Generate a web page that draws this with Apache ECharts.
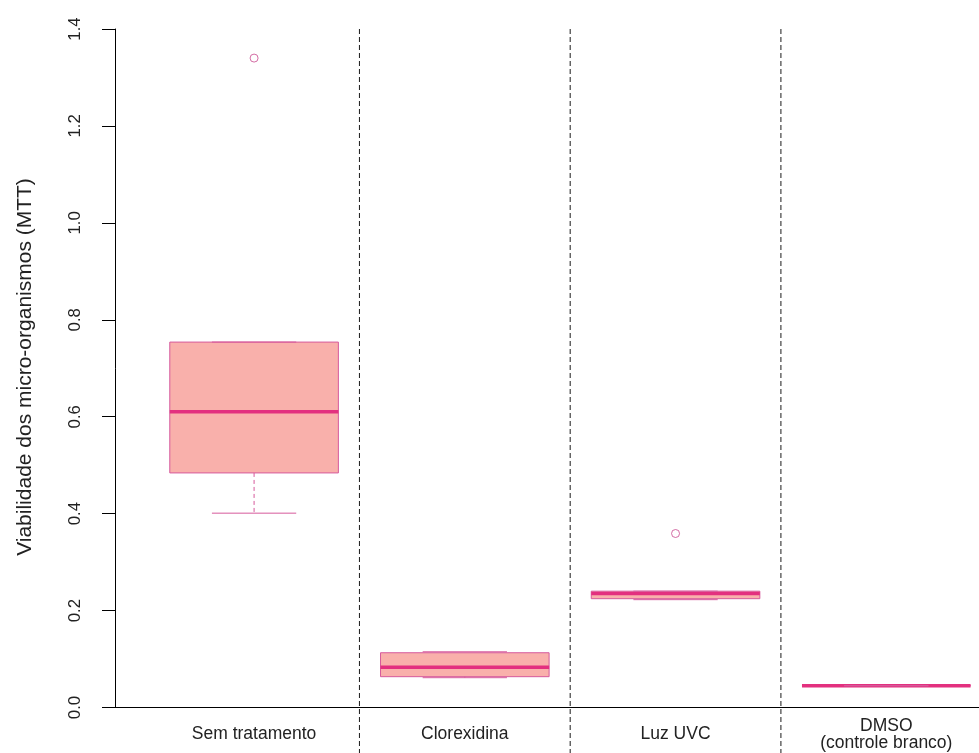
<!DOCTYPE html>
<html>
<head>
<meta charset="utf-8">
<script src="https://cdn.jsdelivr.net/npm/echarts@6/dist/echarts.min.js"></script>
<style>
html,body{margin:0;padding:0;background:#fff;}
#chart{width:979px;height:753px;}
</style>
</head>
<body>
<div id="chart"></div>
<script>
const categories = ['Sem tratamento', 'Clorexidina', 'Luz UVC', 'DMSO\n(controle branco)'];
const whiskerLow  = [0.401, 0.0615, 0.2225, 0.045];
const q1          = [0.484, 0.0636, 0.2245, 0.045];
const median      = [0.610, 0.083,  0.235,  0.045];
const q3          = [0.754, 0.113,  0.240,  0.045];
const whiskerHigh = [0.754, 0.115,  0.240,  0.045];
const outlierGroup = [1, 3];
const outlierValue = [1.340, 0.359];
const yTickValues = [0, 0.2, 0.4, 0.6, 0.8, 1.0, 1.2, 1.4];
const separators = [1.5, 2.5, 3.5];
const yTitle = 'Viabilidade dos micro-organismos (MTT)';

const X_MIN = 0.34, X_MAX = 4.44, Y_MIN = 0, Y_MAX = 1.4, Y_SEP_END = -0.12;
const FONT = '"Liberation Sans", Arial, sans-serif';

const boxData = categories.map((c, i) => [i + 1, whiskerLow[i], q1[i], median[i], q3[i], whiskerHigh[i]]);
const outlierData = outlierGroup.map((g, i) => [g, outlierValue[i]]);

const BORDER = '#D65A9C';

const chart = echarts.init(document.getElementById('chart'), null, {renderer: 'canvas'});
chart.setOption({
  animation: false,
  backgroundColor: '#ffffff',
  grid: {left: 115, top: 29, right: 0, bottom: 45.5, containLabel: false},
  xAxis: {
    type: 'value', min: X_MIN, max: X_MAX,
    axisLine: {show: true, onZero: false, lineStyle: {color: '#000', width: 1}},
    axisTick: {show: false},
    splitLine: {show: false},
    axisLabel: {
      customValues: [1, 2, 3, 4],
      formatter: v => categories[Math.round(v) - 1] || '',
      fontFamily: FONT, fontSize: 17.5, color: '#222',
      margin: 27, verticalAlign: 'middle', lineHeight: 17
    }
  },
  yAxis: {
    type: 'value', min: Y_MIN, max: Y_MAX, interval: 0.2,
    axisLine: {show: true, lineStyle: {color: '#000', width: 1}},
    axisTick: {show: true, inside: false, length: 13, lineStyle: {color: '#000', width: 1}},
    splitLine: {show: false},
    axisLabel: {
      rotate: 90, margin: 31,
      formatter: v => (yTickValues.find(t => Math.abs(t - v) < 1e-6) ?? v).toFixed(1),
      fontFamily: FONT, fontSize: 16.8, color: '#222'
    }
  },
  graphic: [{
    type: 'text', x: 25, y: 367, rotation: Math.PI / 2,
    style: {text: yTitle, fontFamily: FONT, fontSize: 21, fill: '#222', textAlign: 'center', textVerticalAlign: 'middle'}
  }],
  series: [
    {
      type: 'custom', name: 'separators', silent: true, clip: false,
      data: separators.map(s => [s]),
      encode: {x: 0},
      renderItem: (params, api) => {
        const s = api.value(0);
        const top = api.coord([s, Y_MAX]);
        const bot = api.coord([s, Y_SEP_END]);
        return {type: 'line', shape: {x1: top[0], y1: top[1], x2: bot[0], y2: bot[1]},
          style: {stroke: '#1a1a1a', lineWidth: 1, lineDash: [5, 3]}};
      }
    },
    {
      type: 'custom', name: 'boxes', silent: true, clip: false,
      data: boxData,
      encode: {x: 0, y: [1, 2, 3, 4, 5]},
      renderItem: (params, api) => {
        const x = api.value(0);
        const pLow = api.coord([x, api.value(1)]);
        const pQ1 = api.coord([x, api.value(2)]);
        const pMed = api.coord([x, api.value(3)]);
        const pQ3 = api.coord([x, api.value(4)]);
        const pHigh = api.coord([x, api.value(5)]);
        const bw = api.size([0.8, 0])[0];
        const cw = api.size([0.4, 0])[0];
        const c = pMed[0];
        const children = [];
        children.push({type: 'rect', shape: {x: c - bw / 2, y: pQ3[1], width: bw, height: Math.max(pQ1[1] - pQ3[1], 0)},
          style: {fill: '#F9B0AB', stroke: BORDER, lineWidth: 1}});
        children.push({type: 'line', shape: {x1: c - bw / 2, y1: pMed[1], x2: c + bw / 2, y2: pMed[1]},
          style: {stroke: '#E3307F', lineWidth: 3.5}});
        if (pLow[1] - pQ1[1] > 1) children.push({type: 'line', shape: {x1: c, y1: pQ1[1], x2: c, y2: pLow[1]},
          style: {stroke: BORDER, lineWidth: 1, lineDash: [4, 3]}});
        if (pQ3[1] - pHigh[1] > 1) children.push({type: 'line', shape: {x1: c, y1: pHigh[1], x2: c, y2: pQ3[1]},
          style: {stroke: BORDER, lineWidth: 1, lineDash: [4, 3]}});
        children.push({type: 'line', shape: {x1: c - cw / 2, y1: pLow[1], x2: c + cw / 2, y2: pLow[1]},
          style: {stroke: BORDER, lineWidth: 1}});
        children.push({type: 'line', shape: {x1: c - cw / 2, y1: pHigh[1], x2: c + cw / 2, y2: pHigh[1]},
          style: {stroke: BORDER, lineWidth: 1}});
        return {type: 'group', children};
      }
    },
    {
      type: 'scatter', name: 'outliers', silent: true,
      data: outlierData,
      symbol: 'circle', symbolSize: 8,
      itemStyle: {color: '#ffffff', borderColor: '#C94A8E', borderWidth: 1}
    }
  ]
});
</script>
</body>
</html>
